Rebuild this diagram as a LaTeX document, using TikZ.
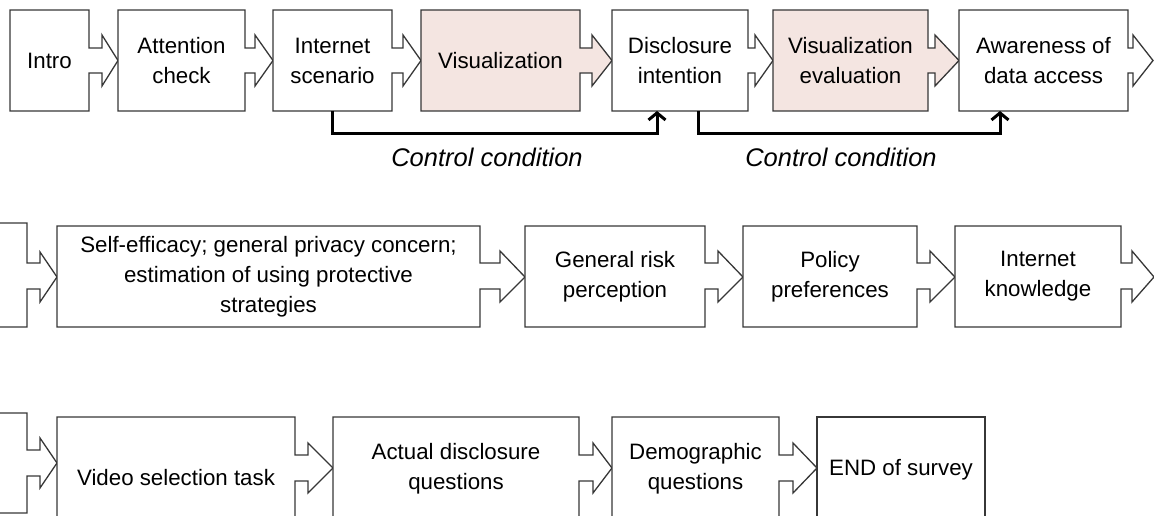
\documentclass[tikz,border=0pt]{standalone}
\usepackage{fontspec}
\setmainfont{Liberation Sans}
\usetikzlibrary{arrows.meta}
\definecolor{pinkfill}{RGB}{244,229,225}
\definecolor{edgecol}{RGB}{55,55,55}
\newcommand\flowbox[8]{% #1 name, #2 x1, #3 x2, #4 shaft end, #5 tip, #6 fill, #7 text, #8 text offset
  \draw[outline, fill=#6] (#2,\rT) -- (#3,\rT) -- (#3,\rsT) -- (#4,\rsT) -- (#4,\rhT) -- (#5,\rM)
     -- (#4,\rhB) -- (#4,\rsB) -- (#3,\rsB) -- (#3,\rB) -- (#2,\rB) -- cycle;
  \node[boxarea, minimum width={#3-#2}, minimum height={\rB-\rT}] (#1) at ({(#2+#3)/2},{(\rT+\rB)/2}) {};
  \node[boxtext] (#1-t) at ([yshift=-#8pt]#1.center) {#7};
}
\begin{document}
\begin{tikzpicture}[x=1pt,y=-1pt,
  boxarea/.style={inner sep=0pt, outer sep=0pt},
  boxtext/.style={inner sep=0pt, align=center, font=\fontsize{22.3}{30}\selectfont, text=black},
  outline/.style={draw=edgecol, line width=1.3pt, line join=miter},
  ctrl/.style={draw=black, line width=3pt, -{Straight Barb[length=7pt,width=17pt]}},
  cclabel/.style={inner sep=0pt, font=\fontsize{25.5}{30}\selectfont\itshape}]
\useasboundingbox (0,0) rectangle (1154,516);
% ---- row 1
\def\rT{10}\def\rB{111}\def\rsT{48}\def\rsB{73}\def\rhT{35}\def\rhB{86}\def\rM{60.5}
\flowbox{intro}{10}{89}{102}{118}{white}{Intro}{0}
\flowbox{attn}{118}{245}{255}{273}{white}{Attention\\check}{0}
\flowbox{scen}{273}{392}{403}{421}{white}{Internet\\scenario}{0}
\flowbox{vis}{421}{580}{592}{612}{pinkfill}{Visualization}{0}
\flowbox{disc}{612}{748}{755}{773}{white}{Disclosure\\intention}{0}
\flowbox{viseval}{773}{928}{935}{959}{pinkfill}{Visualization\\evaluation}{0}
\flowbox{aware}{959}{1128}{1133}{1153}{white}{Awareness of\\data access}{0}
% control condition connectors
\draw[ctrl] (scen.south) -- ++(0,23) -| ([xshift=-23pt]disc.south);
\draw[ctrl] ([xshift=18pt]disc.south) -- ++(0,23) -| ([xshift=-43.5pt]aware.south);
\node[cclabel] (cc1) at (487,157) {Control condition};
\node[cclabel] (cc2) at (841,157) {Control condition};
% ---- row 2
\draw[outline] (0,223) -- (27,223) -- (27,263) -- (40,263) -- (40,252) -- (57,277) -- (40,302)
   -- (40,289) -- (27,289) -- (27,327) -- (0,327);
\def\rT{226}\def\rB{327}\def\rsT{263}\def\rsB{289}\def\rhT{251}\def\rhB{302}\def\rM{277}
\flowbox{self}{57}{480}{500}{525}{white}{Self-efficacy; general privacy concern;\\estimation of using protective\\strategies}{0}
\flowbox{risk}{525}{705}{718}{743}{white}{General risk\\perception}{0}
\flowbox{policy}{743}{917}{930}{955}{white}{Policy\\preferences}{0}
\flowbox{know}{955}{1121}{1132}{1154}{white}{Internet\\knowledge}{0}
% ---- row 3
\draw[outline] (0,413) -- (27,413) -- (27,450) -- (40,450) -- (40,438) -- (57,463) -- (40,488)
   -- (40,476) -- (27,476) -- (27,513) -- (0,513);
\def\rT{417}\def\rB{520}\def\rsT{455}\def\rsB{481}\def\rhT{443}\def\rhB{493}\def\rM{468}
\flowbox{video}{57}{295}{308}{333}{white}{Video selection task}{9}
\flowbox{actual}{333}{579}{593}{612}{white}{Actual disclosure\\questions}{0}
\flowbox{demo}{612}{779}{793}{817}{white}{Demographic\\questions}{0}
\draw[outline] (817,417) rectangle (985,520);
\node[boxarea, minimum width=168pt, minimum height=103pt] (endbox) at (901,468.5) {};
\node[boxtext] (endbox-t) at ([yshift=-1pt]endbox.center) {END of survey};
\end{tikzpicture}
\end{document}
